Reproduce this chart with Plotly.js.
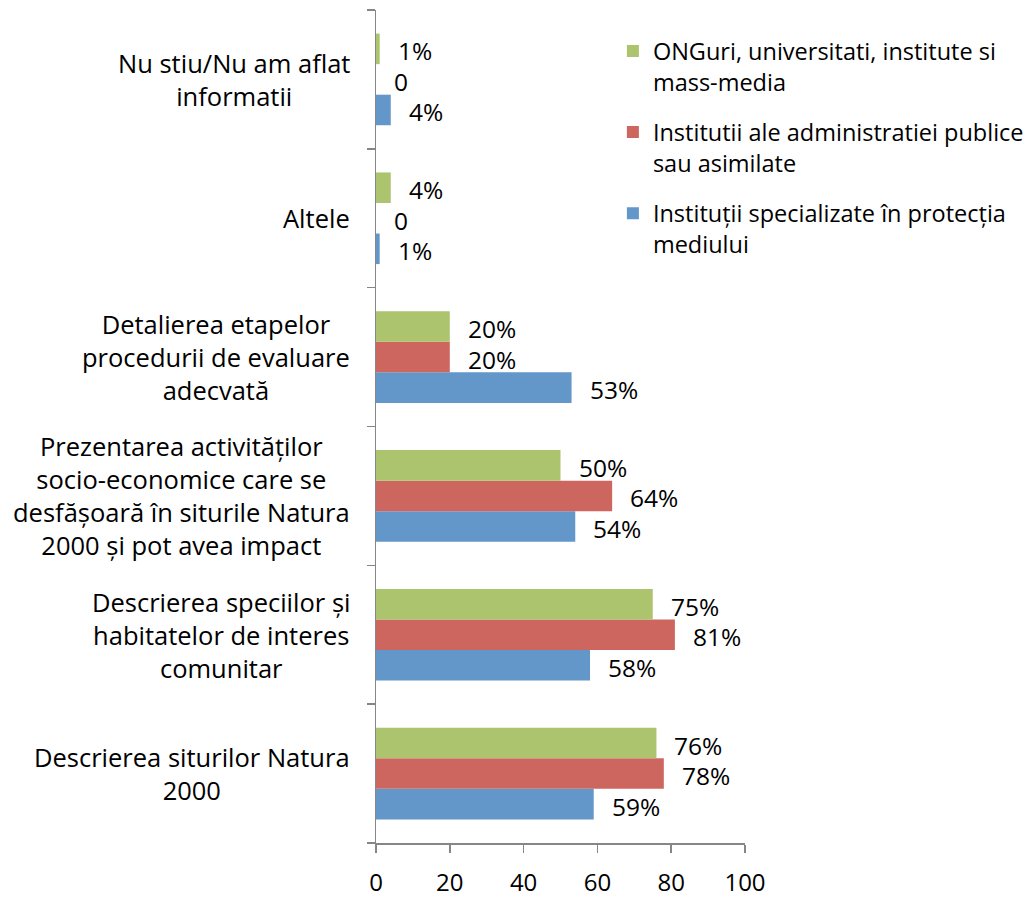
<!DOCTYPE html>
<html>
<head>
<meta charset="utf-8">
<script src="https://cdn.plot.ly/plotly-3.0.1.min.js"></script>
<style>html,body{margin:0;padding:0;background:#fff;}#chart{width:1026px;height:898px;}</style>
</head>
<body>
<div id="chart"></div>
<script>
// Categories listed bottom to top
var categories = [
  "Descrierea siturilor Natura<br>2000",
  "Descrierea speciilor și<br>habitatelor de interes<br>comunitar",
  "Prezentarea activităților<br>socio-economice care se<br>desfășoară în siturile Natura<br>2000 și pot avea impact",
  "Detalierea etapelor<br>procedurii de evaluare<br>adecvată",
  "Altele",
  "Nu stiu/Nu am aflat<br>informatii"
];
var seriesNames = [
  "Instituții specializate în protecția<br>mediului",
  "Institutii ale administratiei publice<br>sau asimilate",
  "ONGuri, universitati, institute si<br>mass-media"
];
var blueValues  = [59, 58, 54, 53, 1, 4];
var redValues   = [78, 81, 64, 20, 0, 0];
var greenValues = [76, 75, 50, 20, 4, 1];
var blueLabels  = ["59%", "58%", "54%", "53%", "1%", "4%"];
var redLabels   = ["78%", "81%", "64%", "20%", "0", "0"];
var greenLabels = ["76%", "75%", "50%", "20%", "4%", "1%"];
var xTicks = [0, 20, 40, 60, 80, 100];

var colors = ["#6396C9", "#CE6660", "#ACC46E"];
var FONT = "'Open Sans', sans-serif";
var bargap = 0.34;

var values = [blueValues, redValues, greenValues];
var labels = [blueLabels, redLabels, greenLabels];
var idx = categories.map(function(_, i){ return i; });

var traces = values.map(function(v, j){
  return {
    type: "bar",
    orientation: "h",
    name: seriesNames[j],
    legendgroup: "g" + j,
    legendrank: 3 - j,
    x: v,
    y: idx,
    marker: {color: colors[j], line: {width: 0}},
    hoverinfo: "x+name"
  };
});

var annotations = [];
var bw = (1 - bargap) / 3;
values.forEach(function(v, j){
  v.forEach(function(val, i){
    annotations.push({
      x: val, y: i + (j - 1) * bw, xref: "x", yref: "y",
      text: labels[j][i], showarrow: false,
      xanchor: "left", yanchor: "middle", xshift: 16, yshift: -2,
      font: {family: FONT, size: 24.5, color: "#000"}
    });
  });
});
categories.forEach(function(c, i){
  annotations.push({
    x: 0, y: i, xref: "paper", yref: "y",
    text: c, showarrow: false, align: "center",
    xanchor: "right", yanchor: "middle", xshift: -24,
    font: {family: FONT, size: 25.5, color: "#000"}
  });
});

var layout = {
  width: 1026, height: 898,
  margin: {l: 376, r: 281, t: 10, b: 55, autoexpand: false},
  paper_bgcolor: "#fff", plot_bgcolor: "#fff",
  barmode: "group", bargap: bargap, bargroupgap: 0,
  font: {family: FONT, size: 24, color: "#000"},
  xaxis: {
    range: [0, 100], tickvals: xTicks, ticktext: xTicks.map(String),
    showgrid: false, zeroline: false,
    showline: true, linecolor: "#868686", linewidth: 1.5,
    ticks: "outside", ticklen: 8, tickcolor: "#868686", tickwidth: 1.5,
    tickfont: {family: FONT, size: 24, color: "#000"},
    ticklabelstandoff: 10, fixedrange: true
  },
  yaxis: {
    type: "linear", range: [-0.5, 5.5],
    tickvals: [-0.5, 0.5, 1.5, 2.5, 3.5, 4.5, 5.5], showticklabels: false,
    showgrid: false, zeroline: false,
    showline: true, linecolor: "#868686", linewidth: 1.5,
    ticks: "outside", ticklen: 8, tickcolor: "#868686", tickwidth: 1.5,
    fixedrange: true
  },
  showlegend: true,
  legend: {
    x: 0.642, y: 0.977, xanchor: "left", yanchor: "top",
    traceorder: "grouped", tracegroupgap: 17, valign: "top",
    font: {family: FONT, size: 23.5, color: "#000"},
    bgcolor: "rgba(0,0,0,0)"
  },
  annotations: annotations
};

Plotly.newPlot("chart", traces, layout, {displayModeBar: false, staticPlot: true});
</script>
</body>
</html>
